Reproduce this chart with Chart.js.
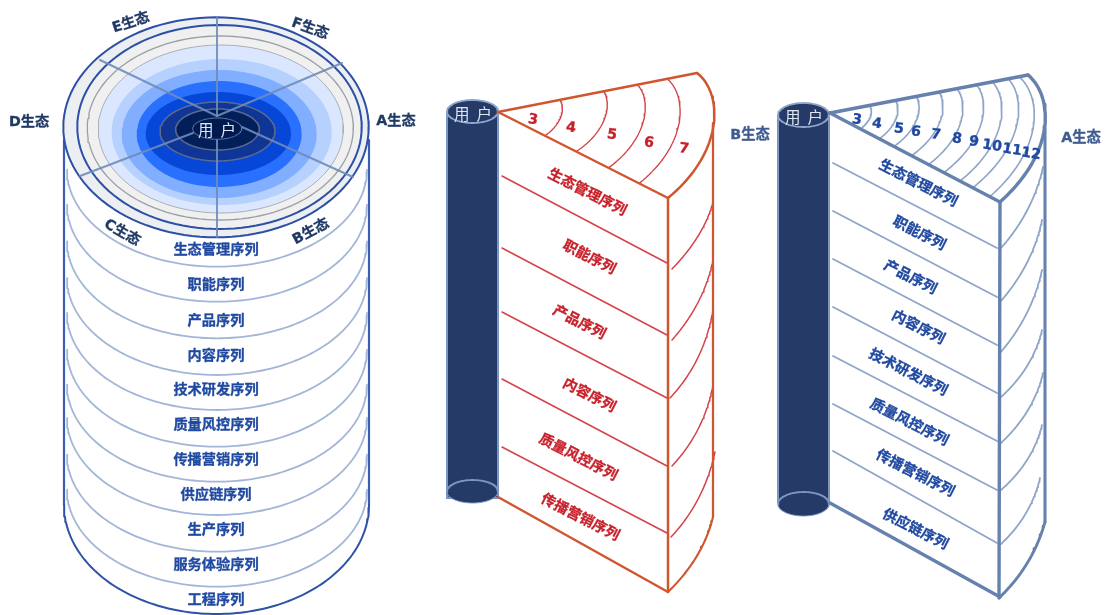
<!DOCTYPE html>
<html lang="zh"><head><meta charset="utf-8">
<style>html,body{margin:0;padding:0;background:#fff;overflow:hidden}canvas{display:block;filter:blur(.45px)}</style>
<script src="https://cdn.jsdelivr.net/npm/chart.js@4"></script>
</head><body><canvas id="c" width="1106" height="615"></canvas>
<script>
// ---------- text content ----------
const ecoLabels = ['A生态','B生态','C生态','D生态','E生态','F生态'];
const ecoPos = [[396,121,0],[311,232,-28],[122,233,30],[29,122,0],[131,23,-18],[310,29,20]];
const cylCategories = ['生态管理序列','职能序列','产品序列','内容序列','技术研发序列','质量风控序列','传播营销序列','供应链序列','生产序列','服务体验序列','工程序列'];
const cylLabelY = [250,285.5,321,356,390.5,425.5,460.5,495.5,530.5,565.5,600];
const cylArcBottom = [266.7,301.7,338.3,375,410,446.7,481.7,515,551.7,586.7];
const redCategories = ['生态管理序列','职能序列','产品序列','内容序列','质量风控序列','传播营销序列'];
const redLabelPos = [[587,193],[589,258],[579,323],[589,396],[578,458],[580,518]];
const blueCategories = ['生态管理序列','职能序列','产品序列','内容序列','技术研发序列','质量风控序列','传播营销序列','供应链序列'];
const blueLabelPos = [[918,184],[919,234],[910,278],[918,328],[908,373],[909,423],[915,474],[915,530]];
const redNums = ['3','4','5','6','7'];
const redNumPos = [[533,120],[571,128],[612,135],[649,143],[684,149]];
const blueNums = ['3','4','5','6','7','8','9','10','11','12'];
const blueNumPos = [[857,120],[877,124],[899,129],[916,132],[936,135],[957,139],[974,142],[992,146],[1012,150],[1031,154]];
// ---------- rings of the top disc: left, right, top, bottom ----------
const ringBox = [[63.3,368.7,17.3,237.3],[77.3,361.7,25,229],[87.3,353.3,36,220],[98.3,343.3,45,213],[111.7,331.7,59,205],[121.7,316.7,70,198],[136.7,301.7,81,187],[145.7,291,92,175],[160,275,102,161],[175.7,259.3,109,150]];
const ringFill = ['#eceff2','#f0f0f0','#f0f0f0','#dbe7ff','#b7d1ff','#81aeff','#2a70ff','#0747d8','#0f3596','#021f5a'];
const ringLine = ['#2d4fa5','#2d4fa5','#9a9fa6','#aab0b8',null,null,null,null,'#5b6b8f','#5b6b8f'];
const ringLineW = [2,2,1.3,1,0,0,0,0,1.5,1.5];
const hubBox = [192.7,241.7,118,139.3];
const spokes = [[[217,116],[217,17]],[[217,139],[217,237]],[[217,116],[100,60]],[[217,116],[342,63]],[[193,133],[80,176]],[[242,127],[353,177]]];
// ---------- wedge outlines (bezier control points) ----------
const redArc = [[697,73],[722,92],[726,150],[668,198]];
const redApex = [498,112];
const redDiv = [[.31,.276],[.53,.46],[.70,.65],[.85,.83]];
const redSection = [[[502,176],[667,263]],[[502,248],[667,335]],[[502,312],[667,398]],[[502,379],[667,466]],[[502,447],[667,533]]];
const redSide = [[[672,269],[704,236],[713,202]],[[672,340],[704,304],[713,260]],[[670,398],[704,362],[713,310]],[[672,466],[704,432],[713,385]],[[671,537],[704,502],[715,452]]];
const redBase = [[713,517],[703,558],[668,592]];
const blueArc = [[1028,75],[1052,95],[1058,150],[1000,202]];
const blueApex = [830,113];
const blueDiv = [[.2,.18],[.33,.29],[.435,.376],[.55,.48],[.64,.58],[.74,.67],[.82,.765],[.9,.84],[.955,.94]];
const blueSection = [[[833,163],[997,248]],[[833,211],[997,297]],[[833,259],[997,345]],[[833,307],[997,393]],[[833,356],[997,441]],[[833,404],[997,490]],[[833,451],[997,543]]];
const blueSide = [[[1001,248],[1033,212],[1043,167]],[[1001,301],[1033,264],[1042,220]],[[1000,353],[1032,316],[1042,270]],[[1001,397],[1033,368],[1042,330]],[[1001,443],[1034,412],[1043,373]],[[1001,490],[1033,462],[1042,425]],[[1001,544],[1031,516],[1040,478]]];
const blueBase = [[1045,522],[1033,565],[1000,597]];
// ---------- columns: left, right, top-ellipse [cy,ry], bottom-ellipse [cy,ry], body bottom ----------
const redCol = [447,498,[111.5,11.5],[491.5,11.5],498];
const blueCol = [778,829,[115,12],[504,12],502];

const datasets = [];
function add(points,color,width,opt){
  datasets.push(Object.assign({data:points.map(p=>({x:p[0],y:p[1]})),borderColor:color||'rgba(0,0,0,0)',borderWidth:width||0,
    showLine:true,pointRadius:0,fill:false,tension:0,borderCapStyle:'round',borderJoinStyle:'round',clip:false},opt||{}));
}
function ellipsePts(x0,x1,y0,y1,a0,a1){
  const cx=(x0+x1)/2,cy=(y0+y1)/2,rx=(x1-x0)/2,ry=(y1-y0)/2,out=[],n=120;
  for(let i=0;i<=n;i++){const t=a0+(a1-a0)*i/n;out.push([cx+rx*Math.cos(t),cy+ry*Math.sin(t)]);}
  return out;
}
function bez(c,n=40){
  const out=[];
  for(let i=0;i<=n;i++){
    let pts=c.map(p=>p.slice());const t=i/n;
    while(pts.length>1){const nx=[];for(let j=0;j<pts.length-1;j++)nx.push([pts[j][0]+(pts[j+1][0]-pts[j][0])*t,pts[j][1]+(pts[j+1][1]-pts[j][1])*t]);pts=nx;}
    out.push(pts[0]);
  }
  return out;
}
function disc(box,fill,line,w){add(ellipsePts(box[0],box[1],box[2],box[3],0,Math.PI*2),line,w,{fill:'shape',backgroundColor:fill});}

// cylinder 1
add([[64,140],[64,505]],'#3c5fb0',2.2);
add([[369,140],[369,505]],'#3c5fb0',2.2);
add(ellipsePts(64,369,396,614,0,Math.PI),'#2f52a8',2);
cylArcBottom.forEach(b=>add(ellipsePts(67,367,b-194,b,0,Math.PI),'#a3b6d8',1.8));
ringBox.forEach((b,i)=>disc(b,ringFill[i],ringLine[i],ringLineW[i]));
spokes.forEach(s=>add(s,'rgba(110,140,185,.9)',2));
disc(hubBox,'#001a4f','#5f79a8',1);

function column(col){
  const [l,r,t,b,end]=col, mid=(l+r)/2, rx=(r-l)/2;
  add([[l,t[0]],[r,t[0]],[r,end],[l,end],[l,t[0]]],'#7b96c3',2,{fill:'shape',backgroundColor:'#253a66',borderJoinStyle:'miter'});
  add(ellipsePts(mid-rx,mid+rx,b[0]-b[1],b[0]+b[1],0,Math.PI*2),'rgba(0,0,0,0)',0,{fill:'shape',backgroundColor:'#253a66'});
  add(ellipsePts(mid-rx,mid+rx,b[0]-b[1],b[0]+b[1],Math.PI,Math.PI*2),'#7b96c3',1.8);
  add(ellipsePts(mid-rx,mid+rx,b[0]-b[1],b[0]+b[1],0,Math.PI),'#7b96c3',1);
  add(ellipsePts(mid-rx,mid+rx,t[0]-t[1],t[0]+t[1],0,Math.PI*2),'#8ea5cc',1.8,{fill:'shape',backgroundColor:'#253a66'});
}
function divider(arc,apex,s,color,w){
  const c=bez(arc),n=c.length-1;
  add(c.map((p,i)=>{const k=s[0]+(s[1]-s[0])*i/n;return [apex[0]+k*(p[0]-apex[0]),apex[1]+k*(p[1]-apex[1])];}),color,w);
}
function wedge(col,apex,arc,base,rightX,rightTop,frontX,frontBot,bottomStart,div,section,side,main,mainW,thin,thinW,arcW){
  column(col);
  section.forEach(s=>add(s,thin,thinW));
  side.forEach(s=>add(bez(s),thin,thinW));
  div.forEach(s=>divider(arc,apex,s,thin,thinW*.9));
  add([apex,arc[0]],main,mainW);
  add([apex,arc[arc.length-1]],main,mainW);
  add(bez(arc),main,arcW);
  add([arc[arc.length-1],[frontX,frontBot]],main,mainW);
  add([bottomStart,base[base.length-1]],main,mainW);
  add([[rightX,rightTop],[rightX,base[0][1]]],main,mainW*.9);
  add(bez(base),main,arcW*.85);
}
wedge(redCol,redApex,redArc,redBase,713,123,668,592,[498,497],redDiv,redSection,redSide,'#d0562f',2.5,'#d4424a',1.5,2.5);
wedge(blueCol,blueApex,blueArc,blueBase,1045,128,999,598,[830,503],blueDiv,blueSection,blueSide,'#6681ad',3.4,'#8fa4c9',1.8,3.4);

const textLayer = {id:'textLayer',afterDatasetsDraw(chart){
  const {ctx,scales:{x,y}}=chart;
  const put=(t,px,py,rot,color,font,sw)=>{ctx.save();ctx.translate(x.getPixelForValue(px),y.getPixelForValue(py));
    ctx.rotate((rot||0)*Math.PI/180);ctx.font=font;ctx.fillStyle=color;ctx.textAlign='center';ctx.textBaseline='middle';
    if(sw){ctx.strokeStyle=color;ctx.lineWidth=sw;ctx.strokeText(t,0,0);}
    ctx.fillText(t,0,0);ctx.restore();};
  const F="'DejaVu Sans','Noto Sans CJK SC',sans-serif";
  const B='bold 14.2px '+F, N='bold 14.3px '+F, R="15.5px 'Noto Sans CJK SC',sans-serif";
  ecoLabels.forEach((t,i)=>put(t,ecoPos[i][0],ecoPos[i][1],ecoPos[i][2],'#1f3864',B,.3));
  cylCategories.forEach((t,i)=>put(t,216,cylLabelY[i],0,'#1f48a0',B,.3));
  redCategories.forEach((t,i)=>put(t,redLabelPos[i][0],redLabelPos[i][1],27,'#c8202a',N,.3));
  blueCategories.forEach((t,i)=>put(t,blueLabelPos[i][0],blueLabelPos[i][1],27,'#1f48a0',N,.3));
  redNums.forEach((t,i)=>put(t,redNumPos[i][0],redNumPos[i][1],8,'#c8202a',N,.3));
  blueNums.forEach((t,i)=>put(t,blueNumPos[i][0],blueNumPos[i][1],8,'#1f48a0',B,.3));
  put('B生态',750,135,0,'#3e5a8f',N,.3);
  put('A生态',1081,138,0,'#3e5a8f',N,.3);
  [[217,130],[473,114],[804,117]].forEach(p=>put('用  户',p[0],p[1],0,'#dfe6f2',R));
}};
datasets.forEach((d,i)=>{d.order=-i;});
new Chart(document.getElementById('c'),{type:'scatter',data:{datasets},plugins:[textLayer],options:{
  responsive:false,animation:false,devicePixelRatio:1,layout:{padding:0},
  plugins:{legend:{display:false},tooltip:{enabled:false},title:{display:false}},
  scales:{x:{type:'linear',min:0,max:1106,display:false},y:{type:'linear',min:0,max:615,reverse:true,display:false}}
}});
</script></body></html>
